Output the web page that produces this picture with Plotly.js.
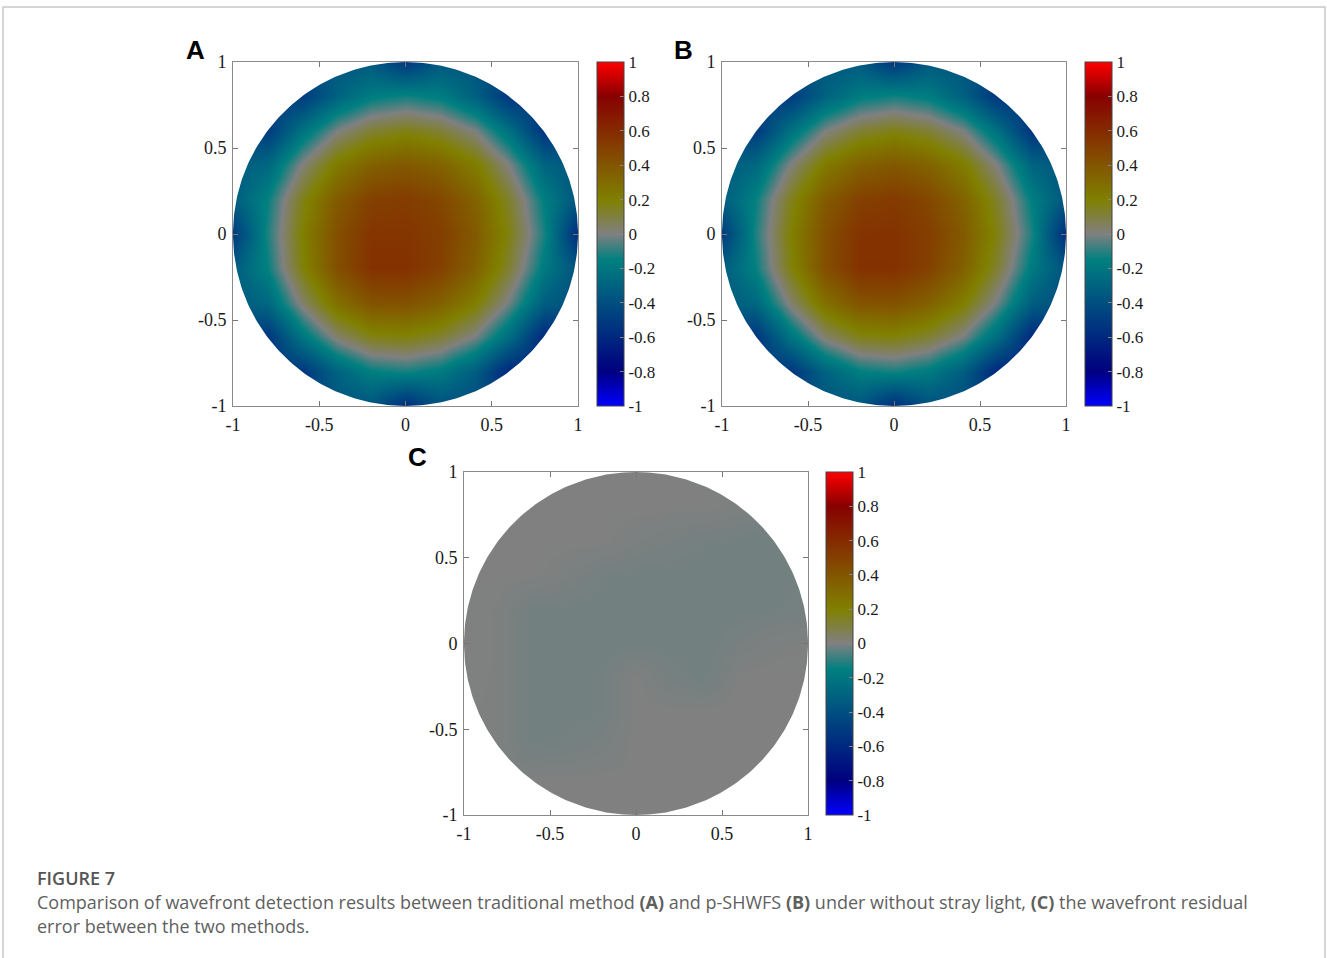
<!DOCTYPE html>
<html><head><meta charset="utf-8">
<script src="https://cdn.plot.ly/plotly-3.0.1.min.js"></script>
<style>html,body{margin:0;padding:0;background:#fff;} #chart{width:1327px;height:958px;}</style>
</head><body><div id="chart"></div>
<script>
const n = null;
// grid coordinates (x left->right, y top->bottom)
const gridX = [-1, -0.8, -0.6, -0.4, -0.2, 0, 0.2, 0.4, 0.6, 0.8, 1];
const gridY = [1, 0.8, 0.6, 0.4, 0.2, 0, -0.2, -0.4, -0.6, -0.8, -1];

// (A) traditional method wavefront, rows top->bottom
const zA = [
  [n,     n,     n,     n,     n,    -0.52,  n,     n,     n,     n,     n],
  [n,     n,    -0.50, -0.30, -0.17, -0.13, -0.17, -0.31, -0.53,  n,     n],
  [n,    -0.50, -0.22,  0.00,  0.12,  0.17,  0.12,  0.00, -0.23, -0.54,  n],
  [n,    -0.27,  0.01,  0.23,  0.35,  0.39,  0.34,  0.22,  0.00, -0.29,  n],
  [n,    -0.14,  0.16,  0.38,  0.50,  0.52,  0.47,  0.34,  0.13, -0.16,  n],
  [-0.50, -0.11, 0.20,  0.43,  0.55,  0.55,  0.51,  0.38,  0.17, -0.12, -0.58],
  [n,    -0.14,  0.18,  0.43,  0.57,  0.57,  0.50,  0.35,  0.12, -0.18,  n],
  [n,    -0.27,  0.03,  0.28,  0.41,  0.42,  0.35,  0.21, -0.02, -0.32,  n],
  [n,    -0.53, -0.21,  0.03,  0.16,  0.18,  0.12, -0.01, -0.25, -0.60,  n],
  [n,     n,    -0.53, -0.30, -0.16, -0.13, -0.18, -0.33, -0.61,  n,     n],
  [n,     n,     n,     n,     n,    -0.58,  n,     n,     n,     n,     n]
];

// (B) p-SHWFS wavefront, rows top->bottom
const zB = [
  [n,     n,     n,     n,     n,    -0.52,  n,     n,     n,     n,     n],
  [n,     n,    -0.50, -0.30, -0.17, -0.13, -0.17, -0.31, -0.53,  n,     n],
  [n,    -0.50, -0.22,  0.00,  0.12,  0.17,  0.12,  0.00, -0.23, -0.54,  n],
  [n,    -0.27,  0.01,  0.23,  0.35,  0.39,  0.34,  0.22,  0.00, -0.29,  n],
  [n,    -0.14,  0.16,  0.38,  0.50,  0.53,  0.47,  0.34,  0.13, -0.16,  n],
  [-0.50, -0.11, 0.20,  0.43,  0.56,  0.56,  0.51,  0.38,  0.17, -0.12, -0.58],
  [n,    -0.14,  0.18,  0.43,  0.57,  0.57,  0.50,  0.35,  0.12, -0.18,  n],
  [n,    -0.27,  0.03,  0.28,  0.41,  0.42,  0.35,  0.21, -0.02, -0.32,  n],
  [n,    -0.53, -0.21,  0.03,  0.16,  0.18,  0.12, -0.01, -0.25, -0.60,  n],
  [n,     n,    -0.53, -0.30, -0.16, -0.13, -0.18, -0.33, -0.61,  n,     n],
  [n,     n,     n,     n,     n,    -0.58,  n,     n,     n,     n,     n]
];

// (C) residual between the two methods, rows top->bottom
const zC = [
  [n,  n,      n,      n,      n,      0,      n,      n,      n,      n,      n],
  [n,  n,      0,      0,      0,      0,      0,      0,     -0.003,  n,      n],
  [n,  0,      0,      0,      0,     -0.006, -0.010, -0.014, -0.016, -0.016,  n],
  [n,  0,      0,     -0.006, -0.014, -0.016, -0.016, -0.016, -0.016, -0.016,  n],
  [n, -0.002, -0.016, -0.016, -0.016, -0.016, -0.016, -0.016, -0.016, -0.016,  n],
  [0, -0.002, -0.016, -0.016, -0.016, -0.016, -0.016, -0.016, -0.010, -0.003, -0.002],
  [n, -0.002, -0.016, -0.016, -0.014,  0,     -0.012, -0.016,  0,      0,      n],
  [n, -0.002, -0.016, -0.016, -0.014,  0,      0,      0,      0,      0,      n],
  [n, -0.002, -0.016, -0.013, -0.008,  0,      0,      0,      0,      0,      n],
  [n,  n,      0,      0,      0,      0,      0,      0,      0,      n,      n],
  [n,  n,      n,      n,      n,      0,      n,      n,      n,      n,      n]
];

const axisTickVals = [-1, -0.5, 0, 0.5, 1];
const axisTickText = ['-1', '-0.5', '0', '0.5', '1'];
const cbTickVals = [-1, -0.8, -0.6, -0.4, -0.2, 0, 0.2, 0.4, 0.6, 0.8, 1];
const cbTickText = ['-1', '-0.8', '-0.6', '-0.4', '-0.2', '0', '0.2', '0.4', '0.6', '0.8', '1'];
const panelLabels = ['A', 'B', 'C'];
const captionHead = 'FIGURE 7';
const captionLine1 = 'Comparison of wavefront detection results between traditional method <b>(A)</b> and p-SHWFS <b>(B)</b> under without stray light, <b>(C)</b> the wavefront residual';
const captionLine2 = 'error between the two methods.';

const W = 1327, H = 958;
const px = v => v / W;
const py = v => 1 - v / H;

const colorscale = [
  [0, 'rgb(0,0,255)'],
  [0.1, 'rgb(0,0,128)'],
  [0.425, 'rgb(0,128,128)'],
  [0.5, 'rgb(128,128,128)'],
  [0.6, 'rgb(128,128,0)'],
  [0.9, 'rgb(135,0,0)'],
  [1, 'rgb(255,0,0)']
];

const yAsc = gridY.slice().reverse();

// panel boxes in pixels: [left, right, top, bottom], colorbar left
const panels = [
  {z: zA, box: [233, 578, 62, 406], cb: 597},
  {z: zB, box: [722, 1066, 62, 406], cb: 1085},
  {z: zC, box: [464, 808, 472, 815], cb: 826}
];

// white mask outside the unit circle (4 corner pieces)
const maskX = [], maskY = [];
[[1, 1], [-1, 1], [-1, -1], [1, -1]].forEach(([sx, sy]) => {
  maskX.push(sx * 1.2); maskY.push(0);
  for (let d = 0; d <= 90; d += 1) {
    const t = d * Math.PI / 180;
    maskX.push(sx * Math.cos(t)); maskY.push(sy * Math.sin(t));
  }
  maskX.push(0); maskY.push(sy * 1.2);
  maskX.push(sx * 1.2); maskY.push(sy * 1.2);
  maskX.push(null); maskY.push(null);
});

const serif = 'Liberation Serif';
const tickFont = {family: serif, size: 18, color: '#1a1a1a'};
const traces = [];
const layout = {
  width: W, height: H, autosize: false,
  margin: {l: 0, r: 0, t: 0, b: 0, pad: 0},
  paper_bgcolor: '#fff', plot_bgcolor: '#fff',
  font: {family: serif, size: 17, color: '#1a1a1a'},
  showlegend: false,
  annotations: [], shapes: []
};

panels.forEach((p, i) => {
  const k = i === 0 ? '' : String(i + 1);
  const [l, r, t, b] = p.box;
  traces.push({
    type: 'heatmap', x: gridX, y: yAsc, z: p.z.slice().reverse(),
    xaxis: 'x' + k, yaxis: 'y' + k,
    zmin: -1, zmax: 1, zsmooth: 'best', connectgaps: true,
    colorscale: colorscale, hoverinfo: 'skip',
    colorbar: {
      x: px(p.cb), xanchor: 'left', xpad: 0, ypad: 0,
      y: py((t + b) / 2), yanchor: 'middle',
      len: b - t, lenmode: 'pixels', thickness: 27, thicknessmode: 'pixels',
      outlinewidth: 1, outlinecolor: '#444',
      tickmode: 'array', tickvals: cbTickVals, ticktext: cbTickText,
      ticks: 'inside', ticklen: 4, tickcolor: '#888',
      tickfont: {family: serif, size: 17, color: '#1a1a1a'}
    }
  });
  traces.push({
    type: 'scatter', mode: 'lines', x: maskX, y: maskY,
    xaxis: 'x' + k, yaxis: 'y' + k,
    fill: 'toself', fillcolor: '#ffffff', line: {width: 0, color: 'rgba(0,0,0,0)'},
    hoverinfo: 'skip', showlegend: false
  });
  const common = {
    range: [-1, 1], tickmode: 'array', tickvals: axisTickVals, ticktext: axisTickText,
    ticks: 'inside', ticklen: 5, tickcolor: '#777', tickwidth: 1,
    showline: true, linecolor: '#8a8a8a', linewidth: 1, mirror: 'ticks',
    showgrid: false, zeroline: false, tickfont: tickFont, fixedrange: true
  };
  layout['xaxis' + k] = Object.assign({}, common, {domain: [px(l), px(r)], anchor: 'y' + k, ticklabelstandoff: 2});
  layout['yaxis' + k] = Object.assign({}, common, {domain: [py(b), py(t)], anchor: 'x' + k, ticklabelstandoff: 2});
});

const labelPos = [[195, 50], [683, 50], [417, 457]];
panelLabels.forEach((s, i) => {
  layout.annotations.push({
    xref: 'paper', yref: 'paper', x: px(labelPos[i][0]), y: py(labelPos[i][1]),
    xanchor: 'center', yanchor: 'middle', showarrow: false,
    text: '<b>' + s + '</b>',
    font: {family: 'Liberation Sans', size: 26, color: '#000'}
  });
});

const capFont = {family: 'Open Sans', size: 18, color: '#5f5f5f'};
layout.annotations.push({xref: 'paper', yref: 'paper', x: px(35), y: py(878), xanchor: 'left', yanchor: 'middle', showarrow: false, text: captionHead, font: {family: 'Open Sans', size: 18, color: '#555', weight: 600}});
layout.annotations.push({xref: 'paper', yref: 'paper', x: px(35), y: py(902), xanchor: 'left', yanchor: 'middle', showarrow: false, text: captionLine1, font: capFont});
layout.annotations.push({xref: 'paper', yref: 'paper', x: px(35), y: py(926), xanchor: 'left', yanchor: 'middle', showarrow: false, text: captionLine2, font: capFont});

layout.shapes.push({
  type: 'rect', xref: 'paper', yref: 'paper',
  x0: px(3), x1: px(1325), y0: -0.05, y1: py(7),
  line: {color: '#c8c8c8', width: 1.5}, fillcolor: 'rgba(0,0,0,0)'
});

Plotly.newPlot('chart', traces, layout, {staticPlot: true, displayModeBar: false});
</script>
</body></html>
